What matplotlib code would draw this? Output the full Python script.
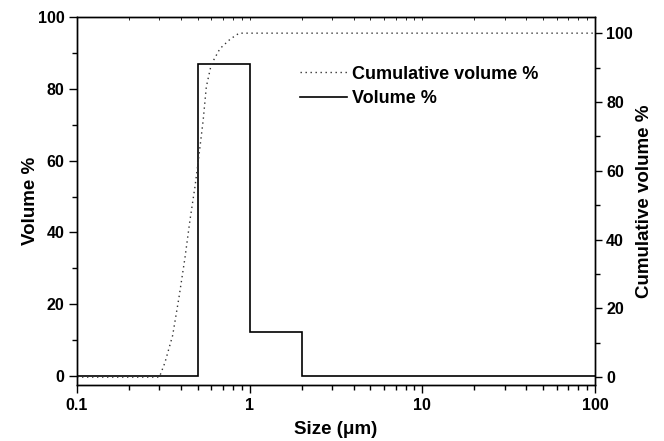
import numpy as np
import matplotlib
matplotlib.use("Agg")
import matplotlib.pyplot as plt
from matplotlib.ticker import MultipleLocator, LogLocator, NullFormatter

plt.rcParams['font.family'] = ['Liberation Sans', 'DejaVu Sans']
plt.rcParams['font.weight'] = 'bold'

# volume % histogram (bin edges in um)
bordes = [0.1, 0.5, 1, 2, 100]
volumen = [0, 87, 12.3, 0]

# cumulative volume %
tam_cum = [0.1, 0.3, 0.323, 0.358, 0.39, 0.422, 0.451, 0.482, 0.502, 0.538,
           0.561, 0.599, 0.673, 0.769, 0.833, 0.87, 100]
vol_cum = [0, 0, 4.2, 12.1, 23.3, 34.7, 45.6, 55.3, 62.1, 74.7,
           84.4, 90.9, 95.5, 98.2, 99.4, 100, 100]

fig = plt.figure(figsize=(6.64, 4.41), dpi=100)
ax = fig.add_axes([77/664, 56/441, 518/664, 368/441])
ax2 = ax.twinx()

l_vol = ax.stairs(volumen, bordes, color='black', lw=1.2, baseline=None, label='Volume %')
l_cum, = ax2.plot(tam_cum, vol_cum, color='#333333', lw=1.0, linestyle=(0, (1, 2.6)),
                  label='Cumulative volume %')

ax.set_xscale('log')
ax.set_xlim(0.1, 100)
ax.set_ylim(-2.5, 100)
ax2.set_ylim(-2.3, 104.7)

ax.xaxis.set_minor_locator(LogLocator(base=10, subs=np.arange(2, 10)))
ax.xaxis.set_minor_formatter(NullFormatter())
ax.set_xticks([0.1, 1, 10, 100])
ax.set_xticklabels(['0.1', '1', '10', '100'])

for a in (ax, ax2):
    a.yaxis.set_major_locator(MultipleLocator(20))
    a.yaxis.set_minor_locator(MultipleLocator(10))
    for s in a.spines.values():
        s.set_linewidth(1.0)

fs_tick = 11.5
ax.tick_params(axis='both', which='major', direction='out', length=6, width=1.0,
               labelsize=fs_tick, pad=3)
ax.tick_params(axis='both', which='minor', direction='out', length=3.5, width=1.0)
ax.tick_params(axis='x', which='both', top=True)
ax2.tick_params(axis='y', which='major', direction='out', length=5, width=1.0,
                labelsize=fs_tick, pad=3)
ax2.tick_params(axis='y', which='minor', direction='out', length=3.5, width=1.0)
# tiny inward ticks on the top spine
for t in ax.xaxis.get_major_ticks() + ax.xaxis.get_minor_ticks():
    t.tick2line.set_marker(matplotlib.lines.TICKDOWN)
    t.tick2line.set_markersize(2)
    t.tick2line.set_markeredgewidth(0.6)
    t.tick2line.set_color('#888888')

for lab in ax.get_xticklabels() + ax.get_yticklabels() + ax2.get_yticklabels():
    lab.set_fontweight('bold')

ax.set_xlabel('Size (\u03bcm)', fontsize=13.5, fontweight='bold', labelpad=6)
ax.set_ylabel('Volume %', fontsize=13.5, fontweight='bold', labelpad=-1)
ax2.set_ylabel('Cumulative volume %', fontsize=13.5, fontweight='bold', labelpad=2)

ax2.legend([l_cum, l_vol], ['Cumulative volume %', 'Volume %'], loc='upper left',
           bbox_to_anchor=(0.43, 0.868), frameon=False,
           handlelength=2.6, handletextpad=0.28, borderpad=0, borderaxespad=0,
           labelspacing=0.42, prop={'weight': 'bold', 'size': 13})

fig.savefig('out.png', dpi=100)
